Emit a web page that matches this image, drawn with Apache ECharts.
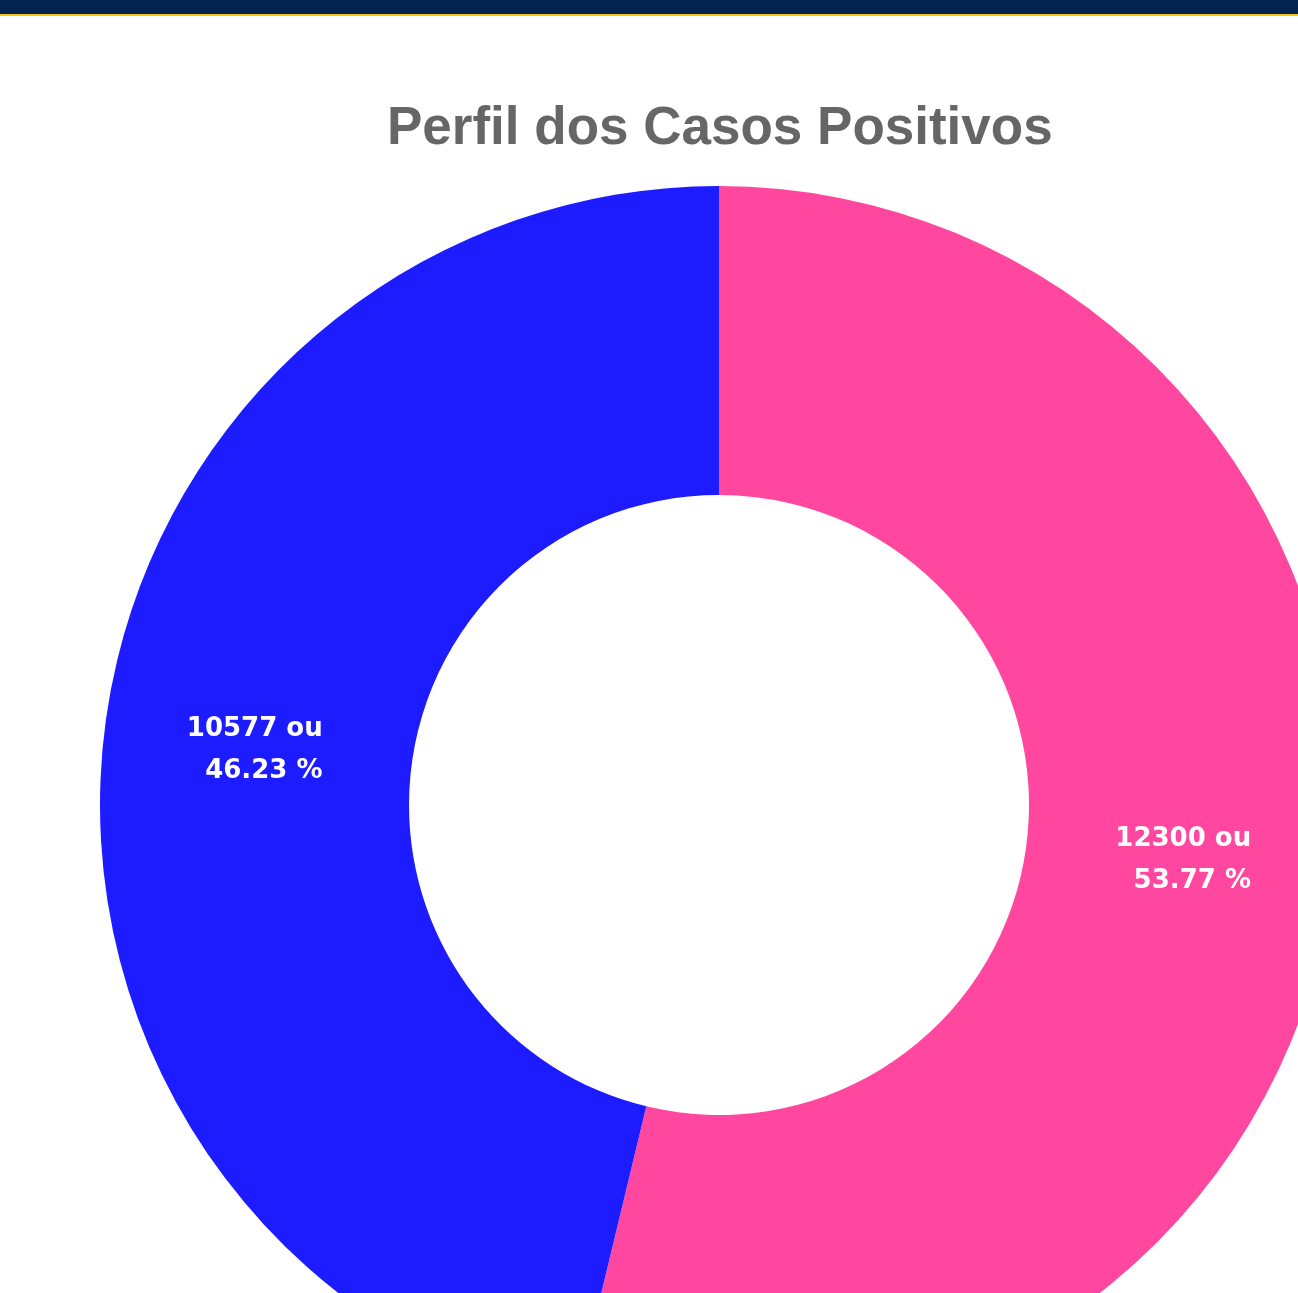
<!DOCTYPE html>
<html>
<head>
<meta charset="utf-8">
<script src="https://cdn.jsdelivr.net/npm/echarts@6/dist/echarts.min.js"></script>
<style>
  html, body { margin: 0; padding: 0; background: #fff; }
  #topbar { position: absolute; left: 0; top: 0; width: 1298px; height: 14px; background: #00234f; border-bottom: 2px solid #f7c31c; }
  #chart { width: 1298px; height: 1293px; }
</style>
</head>
<body>
<div id="chart"></div>
<div id="topbar"></div>
<script>
// data
const categories = ["Feminino", "Masculino"];
const cases = [12300, 10577];
const colors = ["#ff479f", "#1d1bff"];

const chart = echarts.init(document.getElementById("chart"));

const option = {
  animation: false,
  title: {
    text: "Perfil dos Casos Positivos",
    left: 382,
    top: 98,
    textStyle: {
      fontFamily: "Liberation Sans, Arial, sans-serif",
      fontWeight: "bold",
      fontSize: 53,
      color: "#666666",
    },
  },
  series: [
    {
      type: "pie",
      center: [719, 805],
      radius: [310, 619],
      startAngle: 90,
      clockwise: true,
      avoidLabelOverlap: false,
      data: categories.map((name, i) => ({
        name: name,
        value: cases[i],
        itemStyle: { color: colors[i] },
      })),
      label: {
        show: true,
        position: "inside",
        color: "#ffffff",
        fontFamily: "DejaVu Sans, sans-serif",
        fontWeight: "bold",
        fontSize: 26,
        lineHeight: 42,
        formatter: function (p) {
          return p.value + " ou\n  " + p.percent.toFixed(2) + " %";
        },
      },
      labelLine: { show: false },
      emphasis: { disabled: true },
    },
  ],
};

chart.setOption(option);
</script>
</body>
</html>
